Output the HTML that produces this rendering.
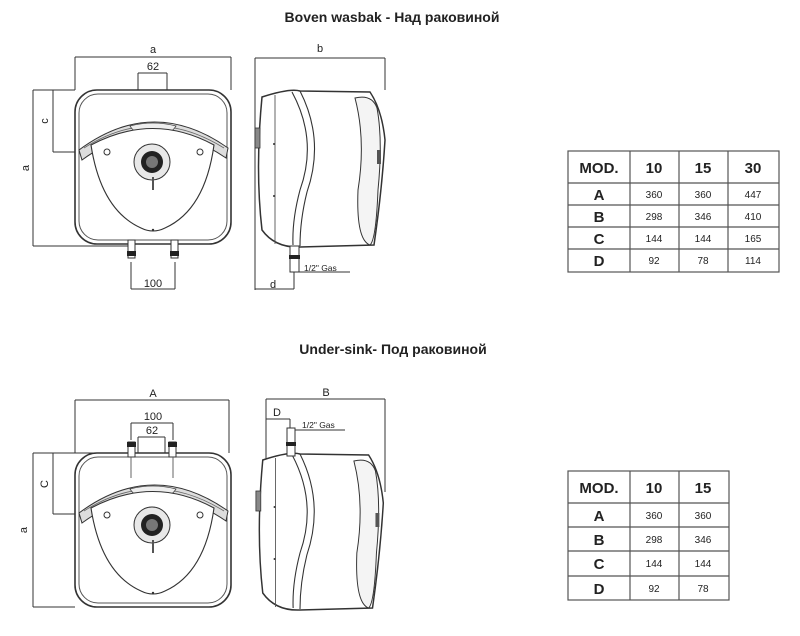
<!DOCTYPE html>
<html><head><meta charset="utf-8"><style>
html,body{margin:0;padding:0;background:#fff;}
svg{display:block}
text{font-family:"Liberation Sans","DejaVu Sans",sans-serif;fill:#222}
</style></head><body>
<svg width="800" height="636" viewBox="0 0 800 636" xmlns="http://www.w3.org/2000/svg">
<defs>
<g id="front">
  <rect x="75" y="90" width="156" height="154" rx="22" fill="#fff" stroke="#333" stroke-width="1.6"/>
  <rect x="79" y="94" width="148" height="146" rx="19" fill="none" stroke="#555" stroke-width="1"/>
  <path d="M79 150 Q153 95 228 148 L226 158 Q153 108 82 160 Z" fill="#ddd" stroke="#333" stroke-width="1"/>
  <path d="M84 148 Q153 104 224 148" fill="none" stroke="#666" stroke-width="0.8"/>
  <path d="M130 126 Q153 120 176 126 Q170 136 153 137 Q136 136 130 126 Z" fill="#eee" stroke="#444" stroke-width="0.8"/>
  <text x="153" y="134" font-size="4.5" text-anchor="middle" font-weight="bold">▲ARISTON</text>
  <path d="M91 145 Q153 112 214 145 Q205 210 165 228 Q153 234 141 228 Q101 210 91 145 Z" fill="#fff" stroke="#333" stroke-width="1.1"/>
  <circle cx="107" cy="152" r="3" fill="none" stroke="#333"/>
  <circle cx="200" cy="152" r="3" fill="none" stroke="#333"/>
  <circle cx="152" cy="162" r="18" fill="#e8e8e8" stroke="#333" stroke-width="1"/>
  <circle cx="152" cy="162" r="11" fill="#222"/>
  <circle cx="152" cy="162" r="6" fill="#777"/>
  <line x1="153" y1="177" x2="153" y2="190" stroke="#555" stroke-width="2"/>
  <circle cx="153" cy="230" r="1.2" fill="#333"/>
</g>
<g id="side">
  <path d="M262 97 Q290 88 300 91 L370 92 Q382 110 385 140 Q382 190 374 245 L300 247 Q275 248 262 230 Q255 170 262 97 Z" fill="#fff" stroke="#333" stroke-width="1.5"/>
  <line x1="275" y1="95" x2="275" y2="244" stroke="#555" stroke-width="0.9"/>
  <path d="M292 92 Q318 140 300 190 Q292 220 293 245" fill="none" stroke="#333" stroke-width="1.1"/>
  <path d="M300 91 Q325 140 307 192 Q300 220 300 246" fill="none" stroke="#333" stroke-width="1.1"/>
  <path d="M355 98 Q372 94 377 108 Q383 140 378 190 Q376 240 370 245 Q356 240 358 190 Q366 140 355 98 Z" fill="#f4f4f4" stroke="#333" stroke-width="1"/>
  <rect x="255" y="128" width="5" height="20" fill="#888" stroke="#333" stroke-width="0.8"/>
  <rect x="377" y="150" width="4" height="14" fill="#555"/>
  <circle cx="274" cy="144" r="1" fill="#333"/><circle cx="274" cy="196" r="1" fill="#333"/>
</g>
</defs>

<text x="392" y="22" font-size="14" font-weight="bold" text-anchor="middle">Boven wasbak - Над раковиной</text>
<text x="393" y="354" font-size="14" font-weight="bold" text-anchor="middle">Under-sink- Под раковиной</text>

<!-- TOP FRONT -->
<g stroke="#333" stroke-width="1" fill="none">
  <line x1="75" y1="57" x2="231" y2="57"/><line x1="75" y1="57" x2="75" y2="90"/><line x1="231" y1="57" x2="231" y2="90"/>
  <line x1="138" y1="73" x2="167" y2="73"/><line x1="138" y1="73" x2="138" y2="150"/><line x1="167" y1="73" x2="167" y2="150"/>
  <line x1="33" y1="90" x2="33" y2="246"/><line x1="33" y1="90" x2="75" y2="90"/><line x1="33" y1="246" x2="131" y2="246"/>
  <line x1="53" y1="90" x2="53" y2="152"/><line x1="53" y1="152" x2="138" y2="152"/>
  <line x1="131" y1="262" x2="131" y2="289"/><line x1="175" y1="262" x2="175" y2="289"/><line x1="131" y1="289" x2="175" y2="289"/>
</g>
<use href="#front"/>
<g stroke="#333" fill="#fff">
  <rect x="128" y="240" width="7" height="18"/><rect x="171" y="240" width="7" height="18"/>
</g>
<rect x="127" y="251" width="9" height="5" fill="#222"/><rect x="170" y="251" width="9" height="5" fill="#222"/>
<text x="153" y="53" font-size="11" text-anchor="middle">a</text>
<text x="153" y="70" font-size="11" text-anchor="middle">62</text>
<text x="153" y="287" font-size="11" text-anchor="middle">100</text>
<text x="48" y="121" font-size="11" text-anchor="middle" transform="rotate(-90 48 121)">c</text>
<text x="29" y="168" font-size="11" text-anchor="middle" transform="rotate(-90 29 168)">a</text>

<!-- TOP SIDE -->
<g stroke="#333" stroke-width="1" fill="none">
  <line x1="255" y1="58" x2="385" y2="58"/><line x1="255" y1="58" x2="255" y2="290"/><line x1="385" y1="58" x2="385" y2="90"/>
  <line x1="255" y1="289" x2="294" y2="289"/><line x1="294" y1="260" x2="294" y2="289"/>
  <line x1="299" y1="272" x2="350" y2="272"/>
</g>
<use href="#side"/>
<rect x="290" y="246" width="9" height="26" fill="#fff" stroke="#333"/>
<rect x="289" y="255" width="11" height="4" fill="#222"/>
<text x="320" y="52" font-size="11" text-anchor="middle">b</text>
<text x="273" y="288" font-size="11" text-anchor="middle">d</text>
<text x="304" y="271" font-size="8.5">1/2" Gas</text>

<!-- BOTTOM FRONT -->
<g stroke="#333" stroke-width="1" fill="none">
  <line x1="75" y1="400" x2="229" y2="400"/><line x1="75" y1="400" x2="75" y2="453"/><line x1="229" y1="400" x2="229" y2="453"/>
  <line x1="131" y1="423" x2="173" y2="423"/><line x1="131" y1="423" x2="131" y2="440"/><line x1="173" y1="423" x2="173" y2="440"/>
  <line x1="138" y1="437" x2="165" y2="437"/><line x1="138" y1="437" x2="138" y2="512"/><line x1="165" y1="437" x2="165" y2="512"/>
  <line x1="33" y1="453" x2="33" y2="607"/><line x1="33" y1="453" x2="130" y2="453"/><line x1="33" y1="607" x2="75" y2="607"/>
  <line x1="53" y1="453" x2="53" y2="514"/><line x1="53" y1="514" x2="138" y2="514"/>
</g>
<use href="#front" transform="translate(0,363)"/>
<g stroke="#333" fill="#fff">
  <rect x="128" y="442" width="7" height="15"/><rect x="169" y="442" width="7" height="15"/>
</g>
<rect x="127" y="442" width="9" height="5" fill="#222"/><rect x="168" y="442" width="9" height="5" fill="#222"/>
<g stroke="#555" stroke-width="0.9"><line x1="131" y1="457" x2="131" y2="478"/><line x1="173" y1="457" x2="173" y2="478"/></g>
<text x="153" y="397" font-size="11" text-anchor="middle">A</text>
<text x="153" y="420" font-size="11" text-anchor="middle">100</text>
<text x="152" y="434" font-size="11" text-anchor="middle">62</text>
<text x="48" y="484" font-size="11" text-anchor="middle" transform="rotate(-90 48 484)">C</text>
<text x="27" y="530" font-size="11" text-anchor="middle" transform="rotate(-90 27 530)">a</text>

<!-- BOTTOM SIDE -->
<g stroke="#333" stroke-width="1" fill="none">
  <line x1="266" y1="399" x2="385" y2="399"/><line x1="266" y1="399" x2="266" y2="470"/><line x1="385" y1="399" x2="385" y2="492"/>
  <line x1="266" y1="419" x2="290" y2="419"/><line x1="290" y1="419" x2="290" y2="430"/>
  <line x1="295" y1="430" x2="345" y2="430"/>
</g>
<use href="#side" transform="translate(6,363) scale(0.98,1)"/>
<rect x="287" y="428" width="8" height="28" fill="#fff" stroke="#333"/>
<rect x="286" y="442" width="10" height="4" fill="#222"/>
<text x="326" y="396" font-size="11" text-anchor="middle">B</text>
<text x="277" y="416" font-size="11" text-anchor="middle">D</text>
<text x="302" y="428" font-size="8.5">1/2" Gas</text>

<!-- TABLE 1 -->
<g stroke="#555" stroke-width="1.2" fill="none">
  <rect x="568" y="151" width="211" height="121"/>
  <line x1="630" y1="151" x2="630" y2="272"/><line x1="679" y1="151" x2="679" y2="272"/><line x1="728" y1="151" x2="728" y2="272"/>
  <line x1="568" y1="183" x2="779" y2="183"/><line x1="568" y1="205" x2="779" y2="205"/><line x1="568" y1="227" x2="779" y2="227"/><line x1="568" y1="249" x2="779" y2="249"/>
</g>
<g font-weight="bold" font-size="15" text-anchor="middle">
  <text x="599" y="173">MOD.</text><text x="654" y="173">10</text><text x="703" y="173">15</text><text x="753" y="173">30</text>
  <text x="599" y="200">A</text><text x="599" y="222">B</text><text x="599" y="244">C</text><text x="599" y="266">D</text>
</g>
<g font-size="10" text-anchor="middle">
  <text x="654" y="198">360</text><text x="703" y="198">360</text><text x="753" y="198">447</text>
  <text x="654" y="220">298</text><text x="703" y="220">346</text><text x="753" y="220">410</text>
  <text x="654" y="242">144</text><text x="703" y="242">144</text><text x="753" y="242">165</text>
  <text x="654" y="264">92</text><text x="703" y="264">78</text><text x="753" y="264">114</text>
</g>

<!-- TABLE 2 -->
<g stroke="#555" stroke-width="1.2" fill="none">
  <rect x="568" y="471" width="161" height="129"/>
  <line x1="630" y1="471" x2="630" y2="600"/><line x1="679" y1="471" x2="679" y2="600"/>
  <line x1="568" y1="503" x2="729" y2="503"/><line x1="568" y1="527" x2="729" y2="527"/><line x1="568" y1="551" x2="729" y2="551"/><line x1="568" y1="576" x2="729" y2="576"/>
</g>
<g font-weight="bold" font-size="15" text-anchor="middle">
  <text x="599" y="493">MOD.</text><text x="654" y="493">10</text><text x="703" y="493">15</text>
  <text x="599" y="521">A</text><text x="599" y="545">B</text><text x="599" y="569">C</text><text x="599" y="594">D</text>
</g>
<g font-size="10" text-anchor="middle">
  <text x="654" y="519">360</text><text x="703" y="519">360</text>
  <text x="654" y="543">298</text><text x="703" y="543">346</text>
  <text x="654" y="567">144</text><text x="703" y="567">144</text>
  <text x="654" y="592">92</text><text x="703" y="592">78</text>
</g>
</svg>
</body></html>
